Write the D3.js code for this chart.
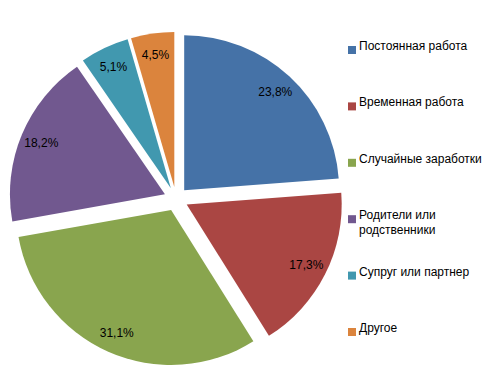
<!DOCTYPE html>
<html><head><meta charset="utf-8">
<script src="https://cdn.jsdelivr.net/npm/d3@7"></script>
<style>
html,body{margin:0;padding:0;background:#fff;}
svg{display:block;}
text{font-family:"Liberation Sans Narrow","Arial Narrow","Liberation Sans",Arial,sans-serif;font-size:12px;fill:#000;}
</style></head>
<body>
<svg id="chart" width="487" height="376"></svg>
<script>
const categories = ["Постоянная работа","Временная работа","Случайные заработки","Родители или родственники","Супруг или партнер","Другое"];
const values = [23.8, 17.3, 31.1, 18.2, 5.1, 4.5];
const labels = ["23,8%","17,3%","31,1%","18,2%","5,1%","4,5%"];
const colors = ["#4572A7","#AA4643","#89A54E","#71588F","#4198AF","#DB843D"];

const W = 487, H = 376;
const cx = 176, cy = 199, R = 155, explode = 12, labelR = 134;
const svg = d3.select("#chart");
const data = categories.map((c,i)=>({cat:c, value:values[i], label:labels[i], color:colors[i]}));
const pie = d3.pie().sort(null).value(d=>d.value);
const arcs = pie(data);
const arc = d3.arc().innerRadius(0).outerRadius(R);
const g = svg.append("g").attr("transform",`translate(${cx},${cy})`);
const slice = g.selectAll("g.slice").data(arcs).join("g").attr("class","slice")
  .attr("transform",d=>{const a=(d.startAngle+d.endAngle)/2;return `translate(${explode*Math.sin(a)},${-explode*Math.cos(a)})`;});
slice.append("path").attr("d",arc).attr("fill",d=>d.data.color);
const lArc = d3.arc().innerRadius(labelR).outerRadius(labelR);
slice.append("text").attr("text-anchor","middle").attr("dy","0.35em")
  .attr("transform",d=>{const a=(d.startAngle+d.endAngle)/2;return `translate(${labelR*Math.sin(a)},${-labelR*Math.cos(a)})`;})
  .text(d=>d.data.label);

// legend
const ly = d3.scalePoint().domain(categories).range([50,332]);
const lx = 348, maxW = W - (lx+11) - 4;
const leg = svg.append("g").selectAll("g").data(data).join("g")
  .attr("transform",d=>`translate(${lx},${ly(d.cat)})`);
leg.append("rect").attr("x",0).attr("y",-4).attr("width",8).attr("height",8).attr("fill",d=>d.color);
leg.each(function(d){
  const t = d3.select(this).append("text").attr("x",11).attr("dy","0.35em");
  const words = d.cat.split(" ");
  let line=[], lineNo=0;
  let ts = t.append("tspan").attr("x",11).attr("dy",0);
  for(const w of words){
    line.push(w); ts.text(line.join(" "));
    if(ts.node().getComputedTextLength()>maxW && line.length>1){
      line.pop(); ts.text(line.join(" ")); line=[w]; lineNo++;
      ts = t.append("tspan").attr("x",11).attr("dy",15).text(w);
    }
  }
});
</script>
</body></html>
